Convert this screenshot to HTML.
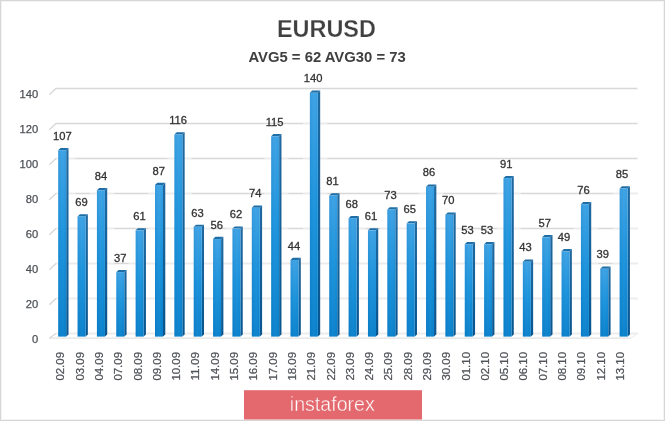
<!DOCTYPE html>
<html><head><meta charset="utf-8"><title>EURUSD</title>
<style>html,body{margin:0;padding:0;background:#fff}svg{display:block}</style></head>
<body>
<svg width="665" height="421" viewBox="0 0 665 421" font-family="Liberation Sans, sans-serif">
<defs>
<linearGradient id="fg" x1="0" x2="1" y1="0" y2="0">
<stop offset="0" stop-color="#003a80" stop-opacity="0.08"/><stop offset="0.6" stop-color="#fff" stop-opacity="0.03"/><stop offset="1" stop-color="#003a80" stop-opacity="0.03"/>
</linearGradient>
<linearGradient id="fv" x1="0" x2="0" y1="0" y2="1">
<stop offset="0" stop-color="#3aa1e4"/><stop offset="0.5" stop-color="#1791db"/><stop offset="1" stop-color="#0880cc"/>
</linearGradient>
<linearGradient id="sv" x1="0" x2="0" y1="0" y2="1"><stop offset="0" stop-color="#1f69a0"/><stop offset="1" stop-color="#08558f"/></linearGradient>
</defs>
<rect x="0" y="0" width="665" height="421" fill="#fff"/>
<rect x="0.5" y="0.5" width="664" height="420" fill="none" stroke="#d6d6d6" stroke-width="1"/>
<rect x="1.5" y="1.5" width="662" height="418" fill="none" stroke="#f4f4f4" stroke-width="1"/>
<path d="M49.3 338.2 L56.0 333.5 L637.5 333.5" fill="none" stroke="#d8d8d8" stroke-width="1.3"/>
<path d="M56.0 333.5H636.9" fill="none" stroke="#fff" stroke-opacity="0.5" stroke-width="1.6"/>
<path d="M49.3 304.7 L56.0 298.5 L637.5 298.5" fill="none" stroke="#d8d8d8" stroke-width="1.3"/>
<path d="M56.0 298.5H636.9" fill="none" stroke="#fff" stroke-opacity="0.5" stroke-width="1.6"/>
<path d="M49.3 269.7 L56.0 263.5 L637.5 263.5" fill="none" stroke="#d8d8d8" stroke-width="1.3"/>
<path d="M56.0 263.5H114.2M128.6 263.5H598.2M612.6 263.5H636.9" fill="none" stroke="#fff" stroke-opacity="0.5" stroke-width="1.6"/>
<path d="M49.3 234.7 L56.0 228.5 L637.5 228.5" fill="none" stroke="#d8d8d8" stroke-width="1.3"/>
<path d="M56.0 228.5H114.2M148.0 228.5H211.0M225.4 228.5H288.5M302.9 228.5H365.9M380.3 228.5H462.7M496.5 228.5H520.8M573.9 228.5H598.2M612.6 228.5H636.9" fill="none" stroke="#fff" stroke-opacity="0.5" stroke-width="1.6"/>
<path d="M49.3 199.7 L56.0 193.5 L637.5 193.5" fill="none" stroke="#d8d8d8" stroke-width="1.3"/>
<path d="M56.0 193.5H75.5M89.9 193.5H114.2M148.0 193.5H191.7M264.2 193.5H288.5M302.9 193.5H327.2M419.0 193.5H443.3M496.5 193.5H520.8M612.6 193.5H636.9" fill="none" stroke="#fff" stroke-opacity="0.5" stroke-width="1.6"/>
<path d="M49.3 164.7 L56.0 158.5 L637.5 158.5" fill="none" stroke="#d8d8d8" stroke-width="1.3"/>
<path d="M56.0 158.5H75.5M167.4 158.5H191.7M264.2 158.5H288.5M302.9 158.5H327.2" fill="none" stroke="#fff" stroke-opacity="0.5" stroke-width="1.6"/>
<path d="M49.3 129.7 L56.0 123.5 L637.5 123.5" fill="none" stroke="#d8d8d8" stroke-width="1.3"/>
<path d="M302.9 123.5H327.2" fill="none" stroke="#fff" stroke-opacity="0.5" stroke-width="1.6"/>
<path d="M49.3 94.7 L56.0 88.5 L637.5 88.5" fill="none" stroke="#d8d8d8" stroke-width="1.3"/>
<path d="M49.3 338.1 H630.9" fill="none" stroke="#dcdcdc" stroke-width="1"/>
<path d="M630.9 338.1 L637.5 333.5" fill="none" stroke="#ececec" stroke-width="1"/>
<text x="38.2" y="342.5" font-size="11.2" fill="#4d5156" stroke="#4d5156" stroke-width="0.25" text-anchor="end">0</text>
<text x="38.2" y="307.6" font-size="11.2" fill="#4d5156" stroke="#4d5156" stroke-width="0.25" text-anchor="end">20</text>
<text x="38.2" y="272.7" font-size="11.2" fill="#4d5156" stroke="#4d5156" stroke-width="0.25" text-anchor="end">40</text>
<text x="38.2" y="237.8" font-size="11.2" fill="#4d5156" stroke="#4d5156" stroke-width="0.25" text-anchor="end">60</text>
<text x="38.2" y="202.9" font-size="11.2" fill="#4d5156" stroke="#4d5156" stroke-width="0.25" text-anchor="end">80</text>
<text x="38.2" y="168.0" font-size="11.2" fill="#4d5156" stroke="#4d5156" stroke-width="0.25" text-anchor="end">100</text>
<text x="38.2" y="133.1" font-size="11.2" fill="#4d5156" stroke="#4d5156" stroke-width="0.25" text-anchor="end">120</text>
<text x="38.2" y="98.2" font-size="11.2" fill="#4d5156" stroke="#4d5156" stroke-width="0.25" text-anchor="end">140</text>
<path d="M66.20 150.21 L68.50 148.01 L68.50 334.40 L66.20 336.60Z" fill="url(#sv)"/>
<path d="M58.20 150.21 L60.50 148.01 L68.50 148.01 L66.20 150.21Z" fill="#1f6ea6"/>
<rect x="58.20" y="150.21" width="8.0" height="186.39" fill="url(#fv)"/>
<rect x="58.20" y="150.21" width="8.0" height="186.39" fill="url(#fg)"/>
<text x="62.30" y="139.91" font-size="11.2" fill="#333" stroke="#333" stroke-width="0.3" text-anchor="middle">107</text>
<path d="M85.56 216.40 L87.86 214.20 L87.86 334.40 L85.56 336.60Z" fill="url(#sv)"/>
<path d="M77.56 216.40 L79.86 214.20 L87.86 214.20 L85.56 216.40Z" fill="#1f6ea6"/>
<rect x="77.56" y="216.40" width="8.0" height="120.20" fill="url(#fv)"/>
<rect x="77.56" y="216.40" width="8.0" height="120.20" fill="url(#fg)"/>
<text x="81.60" y="206.10" font-size="11.2" fill="#333" stroke="#333" stroke-width="0.3" text-anchor="middle">69</text>
<path d="M104.92 190.27 L107.22 188.07 L107.22 334.40 L104.92 336.60Z" fill="url(#sv)"/>
<path d="M96.92 190.27 L99.22 188.07 L107.22 188.07 L104.92 190.27Z" fill="#1f6ea6"/>
<rect x="96.92" y="190.27" width="8.0" height="146.33" fill="url(#fv)"/>
<rect x="96.92" y="190.27" width="8.0" height="146.33" fill="url(#fg)"/>
<text x="100.90" y="179.97" font-size="11.2" fill="#333" stroke="#333" stroke-width="0.3" text-anchor="middle">84</text>
<path d="M124.28 272.15 L126.58 269.95 L126.58 334.40 L124.28 336.60Z" fill="url(#sv)"/>
<path d="M116.28 272.15 L118.58 269.95 L126.58 269.95 L124.28 272.15Z" fill="#1f6ea6"/>
<rect x="116.28" y="272.15" width="8.0" height="64.45" fill="url(#fv)"/>
<rect x="116.28" y="272.15" width="8.0" height="64.45" fill="url(#fg)"/>
<text x="120.20" y="261.85" font-size="11.2" fill="#333" stroke="#333" stroke-width="0.3" text-anchor="middle">37</text>
<path d="M143.64 230.34 L145.94 228.14 L145.94 334.40 L143.64 336.60Z" fill="url(#sv)"/>
<path d="M135.64 230.34 L137.94 228.14 L145.94 228.14 L143.64 230.34Z" fill="#1f6ea6"/>
<rect x="135.64" y="230.34" width="8.0" height="106.26" fill="url(#fv)"/>
<rect x="135.64" y="230.34" width="8.0" height="106.26" fill="url(#fg)"/>
<text x="139.50" y="220.04" font-size="11.2" fill="#333" stroke="#333" stroke-width="0.3" text-anchor="middle">61</text>
<path d="M163.00 185.05 L165.30 182.85 L165.30 334.40 L163.00 336.60Z" fill="url(#sv)"/>
<path d="M155.00 185.05 L157.30 182.85 L165.30 182.85 L163.00 185.05Z" fill="#1f6ea6"/>
<rect x="155.00" y="185.05" width="8.0" height="151.55" fill="url(#fv)"/>
<rect x="155.00" y="185.05" width="8.0" height="151.55" fill="url(#fg)"/>
<text x="158.80" y="174.75" font-size="11.2" fill="#333" stroke="#333" stroke-width="0.3" text-anchor="middle">87</text>
<path d="M182.36 134.53 L184.66 132.33 L184.66 334.40 L182.36 336.60Z" fill="url(#sv)"/>
<path d="M174.36 134.53 L176.66 132.33 L184.66 132.33 L182.36 134.53Z" fill="#1f6ea6"/>
<rect x="174.36" y="134.53" width="8.0" height="202.07" fill="url(#fv)"/>
<rect x="174.36" y="134.53" width="8.0" height="202.07" fill="url(#fg)"/>
<text x="178.10" y="124.23" font-size="11.2" fill="#333" stroke="#333" stroke-width="0.3" text-anchor="middle">116</text>
<path d="M201.72 226.85 L204.02 224.65 L204.02 334.40 L201.72 336.60Z" fill="url(#sv)"/>
<path d="M193.72 226.85 L196.02 224.65 L204.02 224.65 L201.72 226.85Z" fill="#1f6ea6"/>
<rect x="193.72" y="226.85" width="8.0" height="109.75" fill="url(#fv)"/>
<rect x="193.72" y="226.85" width="8.0" height="109.75" fill="url(#fg)"/>
<text x="197.40" y="216.55" font-size="11.2" fill="#333" stroke="#333" stroke-width="0.3" text-anchor="middle">63</text>
<path d="M221.08 239.05 L223.38 236.85 L223.38 334.40 L221.08 336.60Z" fill="url(#sv)"/>
<path d="M213.08 239.05 L215.38 236.85 L223.38 236.85 L221.08 239.05Z" fill="#1f6ea6"/>
<rect x="213.08" y="239.05" width="8.0" height="97.55" fill="url(#fv)"/>
<rect x="213.08" y="239.05" width="8.0" height="97.55" fill="url(#fg)"/>
<text x="216.70" y="228.75" font-size="11.2" fill="#333" stroke="#333" stroke-width="0.3" text-anchor="middle">56</text>
<path d="M240.44 228.60 L242.74 226.40 L242.74 334.40 L240.44 336.60Z" fill="url(#sv)"/>
<path d="M232.44 228.60 L234.74 226.40 L242.74 226.40 L240.44 228.60Z" fill="#1f6ea6"/>
<rect x="232.44" y="228.60" width="8.0" height="108.00" fill="url(#fv)"/>
<rect x="232.44" y="228.60" width="8.0" height="108.00" fill="url(#fg)"/>
<text x="236.00" y="218.30" font-size="11.2" fill="#333" stroke="#333" stroke-width="0.3" text-anchor="middle">62</text>
<path d="M259.80 207.69 L262.10 205.49 L262.10 334.40 L259.80 336.60Z" fill="url(#sv)"/>
<path d="M251.80 207.69 L254.10 205.49 L262.10 205.49 L259.80 207.69Z" fill="#1f6ea6"/>
<rect x="251.80" y="207.69" width="8.0" height="128.91" fill="url(#fv)"/>
<rect x="251.80" y="207.69" width="8.0" height="128.91" fill="url(#fg)"/>
<text x="255.30" y="197.39" font-size="11.2" fill="#333" stroke="#333" stroke-width="0.3" text-anchor="middle">74</text>
<path d="M279.16 136.27 L281.46 134.07 L281.46 334.40 L279.16 336.60Z" fill="url(#sv)"/>
<path d="M271.16 136.27 L273.46 134.07 L281.46 134.07 L279.16 136.27Z" fill="#1f6ea6"/>
<rect x="271.16" y="136.27" width="8.0" height="200.33" fill="url(#fv)"/>
<rect x="271.16" y="136.27" width="8.0" height="200.33" fill="url(#fg)"/>
<text x="274.60" y="125.97" font-size="11.2" fill="#333" stroke="#333" stroke-width="0.3" text-anchor="middle">115</text>
<path d="M298.52 259.95 L300.82 257.75 L300.82 334.40 L298.52 336.60Z" fill="url(#sv)"/>
<path d="M290.52 259.95 L292.82 257.75 L300.82 257.75 L298.52 259.95Z" fill="#1f6ea6"/>
<rect x="290.52" y="259.95" width="8.0" height="76.65" fill="url(#fv)"/>
<rect x="290.52" y="259.95" width="8.0" height="76.65" fill="url(#fg)"/>
<text x="293.90" y="249.65" font-size="11.2" fill="#333" stroke="#333" stroke-width="0.3" text-anchor="middle">44</text>
<path d="M317.88 92.72 L320.18 90.52 L320.18 334.40 L317.88 336.60Z" fill="url(#sv)"/>
<path d="M309.88 92.72 L312.18 90.52 L320.18 90.52 L317.88 92.72Z" fill="#1f6ea6"/>
<rect x="309.88" y="92.72" width="8.0" height="243.88" fill="url(#fv)"/>
<rect x="309.88" y="92.72" width="8.0" height="243.88" fill="url(#fg)"/>
<text x="313.20" y="82.42" font-size="11.2" fill="#333" stroke="#333" stroke-width="0.3" text-anchor="middle">140</text>
<path d="M337.24 195.50 L339.54 193.30 L339.54 334.40 L337.24 336.60Z" fill="url(#sv)"/>
<path d="M329.24 195.50 L331.54 193.30 L339.54 193.30 L337.24 195.50Z" fill="#1f6ea6"/>
<rect x="329.24" y="195.50" width="8.0" height="141.10" fill="url(#fv)"/>
<rect x="329.24" y="195.50" width="8.0" height="141.10" fill="url(#fg)"/>
<text x="332.50" y="185.20" font-size="11.2" fill="#333" stroke="#333" stroke-width="0.3" text-anchor="middle">81</text>
<path d="M356.60 218.14 L358.90 215.94 L358.90 334.40 L356.60 336.60Z" fill="url(#sv)"/>
<path d="M348.60 218.14 L350.90 215.94 L358.90 215.94 L356.60 218.14Z" fill="#1f6ea6"/>
<rect x="348.60" y="218.14" width="8.0" height="118.46" fill="url(#fv)"/>
<rect x="348.60" y="218.14" width="8.0" height="118.46" fill="url(#fg)"/>
<text x="351.80" y="207.84" font-size="11.2" fill="#333" stroke="#333" stroke-width="0.3" text-anchor="middle">68</text>
<path d="M375.96 230.34 L378.26 228.14 L378.26 334.40 L375.96 336.60Z" fill="url(#sv)"/>
<path d="M367.96 230.34 L370.26 228.14 L378.26 228.14 L375.96 230.34Z" fill="#1f6ea6"/>
<rect x="367.96" y="230.34" width="8.0" height="106.26" fill="url(#fv)"/>
<rect x="367.96" y="230.34" width="8.0" height="106.26" fill="url(#fg)"/>
<text x="371.10" y="220.04" font-size="11.2" fill="#333" stroke="#333" stroke-width="0.3" text-anchor="middle">61</text>
<path d="M395.32 209.43 L397.62 207.23 L397.62 334.40 L395.32 336.60Z" fill="url(#sv)"/>
<path d="M387.32 209.43 L389.62 207.23 L397.62 207.23 L395.32 209.43Z" fill="#1f6ea6"/>
<rect x="387.32" y="209.43" width="8.0" height="127.17" fill="url(#fv)"/>
<rect x="387.32" y="209.43" width="8.0" height="127.17" fill="url(#fg)"/>
<text x="390.40" y="199.13" font-size="11.2" fill="#333" stroke="#333" stroke-width="0.3" text-anchor="middle">73</text>
<path d="M414.68 223.37 L416.98 221.17 L416.98 334.40 L414.68 336.60Z" fill="url(#sv)"/>
<path d="M406.68 223.37 L408.98 221.17 L416.98 221.17 L414.68 223.37Z" fill="#1f6ea6"/>
<rect x="406.68" y="223.37" width="8.0" height="113.23" fill="url(#fv)"/>
<rect x="406.68" y="223.37" width="8.0" height="113.23" fill="url(#fg)"/>
<text x="409.70" y="213.07" font-size="11.2" fill="#333" stroke="#333" stroke-width="0.3" text-anchor="middle">65</text>
<path d="M434.04 186.79 L436.34 184.59 L436.34 334.40 L434.04 336.60Z" fill="url(#sv)"/>
<path d="M426.04 186.79 L428.34 184.59 L436.34 184.59 L434.04 186.79Z" fill="#1f6ea6"/>
<rect x="426.04" y="186.79" width="8.0" height="149.81" fill="url(#fv)"/>
<rect x="426.04" y="186.79" width="8.0" height="149.81" fill="url(#fg)"/>
<text x="429.00" y="176.49" font-size="11.2" fill="#333" stroke="#333" stroke-width="0.3" text-anchor="middle">86</text>
<path d="M453.40 214.66 L455.70 212.46 L455.70 334.40 L453.40 336.60Z" fill="url(#sv)"/>
<path d="M445.40 214.66 L447.70 212.46 L455.70 212.46 L453.40 214.66Z" fill="#1f6ea6"/>
<rect x="445.40" y="214.66" width="8.0" height="121.94" fill="url(#fv)"/>
<rect x="445.40" y="214.66" width="8.0" height="121.94" fill="url(#fg)"/>
<text x="448.30" y="204.36" font-size="11.2" fill="#333" stroke="#333" stroke-width="0.3" text-anchor="middle">70</text>
<path d="M472.76 244.27 L475.06 242.07 L475.06 334.40 L472.76 336.60Z" fill="url(#sv)"/>
<path d="M464.76 244.27 L467.06 242.07 L475.06 242.07 L472.76 244.27Z" fill="#1f6ea6"/>
<rect x="464.76" y="244.27" width="8.0" height="92.33" fill="url(#fv)"/>
<rect x="464.76" y="244.27" width="8.0" height="92.33" fill="url(#fg)"/>
<text x="467.60" y="233.97" font-size="11.2" fill="#333" stroke="#333" stroke-width="0.3" text-anchor="middle">53</text>
<path d="M492.12 244.27 L494.42 242.07 L494.42 334.40 L492.12 336.60Z" fill="url(#sv)"/>
<path d="M484.12 244.27 L486.42 242.07 L494.42 242.07 L492.12 244.27Z" fill="#1f6ea6"/>
<rect x="484.12" y="244.27" width="8.0" height="92.33" fill="url(#fv)"/>
<rect x="484.12" y="244.27" width="8.0" height="92.33" fill="url(#fg)"/>
<text x="486.90" y="233.97" font-size="11.2" fill="#333" stroke="#333" stroke-width="0.3" text-anchor="middle">53</text>
<path d="M511.48 178.08 L513.78 175.88 L513.78 334.40 L511.48 336.60Z" fill="url(#sv)"/>
<path d="M503.48 178.08 L505.78 175.88 L513.78 175.88 L511.48 178.08Z" fill="#1f6ea6"/>
<rect x="503.48" y="178.08" width="8.0" height="158.52" fill="url(#fv)"/>
<rect x="503.48" y="178.08" width="8.0" height="158.52" fill="url(#fg)"/>
<text x="506.20" y="167.78" font-size="11.2" fill="#333" stroke="#333" stroke-width="0.3" text-anchor="middle">91</text>
<path d="M530.84 261.69 L533.14 259.49 L533.14 334.40 L530.84 336.60Z" fill="url(#sv)"/>
<path d="M522.84 261.69 L525.14 259.49 L533.14 259.49 L530.84 261.69Z" fill="#1f6ea6"/>
<rect x="522.84" y="261.69" width="8.0" height="74.91" fill="url(#fv)"/>
<rect x="522.84" y="261.69" width="8.0" height="74.91" fill="url(#fg)"/>
<text x="525.50" y="251.39" font-size="11.2" fill="#333" stroke="#333" stroke-width="0.3" text-anchor="middle">43</text>
<path d="M550.20 237.31 L552.50 235.11 L552.50 334.40 L550.20 336.60Z" fill="url(#sv)"/>
<path d="M542.20 237.31 L544.50 235.11 L552.50 235.11 L550.20 237.31Z" fill="#1f6ea6"/>
<rect x="542.20" y="237.31" width="8.0" height="99.29" fill="url(#fv)"/>
<rect x="542.20" y="237.31" width="8.0" height="99.29" fill="url(#fg)"/>
<text x="544.80" y="227.01" font-size="11.2" fill="#333" stroke="#333" stroke-width="0.3" text-anchor="middle">57</text>
<path d="M569.56 251.24 L571.86 249.04 L571.86 334.40 L569.56 336.60Z" fill="url(#sv)"/>
<path d="M561.56 251.24 L563.86 249.04 L571.86 249.04 L569.56 251.24Z" fill="#1f6ea6"/>
<rect x="561.56" y="251.24" width="8.0" height="85.36" fill="url(#fv)"/>
<rect x="561.56" y="251.24" width="8.0" height="85.36" fill="url(#fg)"/>
<text x="564.10" y="240.94" font-size="11.2" fill="#333" stroke="#333" stroke-width="0.3" text-anchor="middle">49</text>
<path d="M588.92 204.21 L591.22 202.01 L591.22 334.40 L588.92 336.60Z" fill="url(#sv)"/>
<path d="M580.92 204.21 L583.22 202.01 L591.22 202.01 L588.92 204.21Z" fill="#1f6ea6"/>
<rect x="580.92" y="204.21" width="8.0" height="132.39" fill="url(#fv)"/>
<rect x="580.92" y="204.21" width="8.0" height="132.39" fill="url(#fg)"/>
<text x="583.40" y="193.91" font-size="11.2" fill="#333" stroke="#333" stroke-width="0.3" text-anchor="middle">76</text>
<path d="M608.28 268.66 L610.58 266.46 L610.58 334.40 L608.28 336.60Z" fill="url(#sv)"/>
<path d="M600.28 268.66 L602.58 266.46 L610.58 266.46 L608.28 268.66Z" fill="#1f6ea6"/>
<rect x="600.28" y="268.66" width="8.0" height="67.94" fill="url(#fv)"/>
<rect x="600.28" y="268.66" width="8.0" height="67.94" fill="url(#fg)"/>
<text x="602.70" y="258.36" font-size="11.2" fill="#333" stroke="#333" stroke-width="0.3" text-anchor="middle">39</text>
<path d="M627.64 188.53 L629.94 186.33 L629.94 334.40 L627.64 336.60Z" fill="url(#sv)"/>
<path d="M619.64 188.53 L621.94 186.33 L629.94 186.33 L627.64 188.53Z" fill="#1f6ea6"/>
<rect x="619.64" y="188.53" width="8.0" height="148.07" fill="url(#fv)"/>
<rect x="619.64" y="188.53" width="8.0" height="148.07" fill="url(#fg)"/>
<text x="622.00" y="178.23" font-size="11.2" fill="#333" stroke="#333" stroke-width="0.3" text-anchor="middle">85</text>
<text transform="translate(64.45 352.00) rotate(-90)" font-size="11" fill="#505358" stroke="#505358" stroke-width="0.25" text-anchor="end" textLength="28.6" lengthAdjust="spacingAndGlyphs">02.09</text>
<text transform="translate(83.74 352.00) rotate(-90)" font-size="11" fill="#505358" stroke="#505358" stroke-width="0.25" text-anchor="end" textLength="28.6" lengthAdjust="spacingAndGlyphs">03.09</text>
<text transform="translate(103.03 352.00) rotate(-90)" font-size="11" fill="#505358" stroke="#505358" stroke-width="0.25" text-anchor="end" textLength="28.6" lengthAdjust="spacingAndGlyphs">04.09</text>
<text transform="translate(122.32 352.00) rotate(-90)" font-size="11" fill="#505358" stroke="#505358" stroke-width="0.25" text-anchor="end" textLength="28.6" lengthAdjust="spacingAndGlyphs">07.09</text>
<text transform="translate(141.61 352.00) rotate(-90)" font-size="11" fill="#505358" stroke="#505358" stroke-width="0.25" text-anchor="end" textLength="28.6" lengthAdjust="spacingAndGlyphs">08.09</text>
<text transform="translate(160.90 352.00) rotate(-90)" font-size="11" fill="#505358" stroke="#505358" stroke-width="0.25" text-anchor="end" textLength="28.6" lengthAdjust="spacingAndGlyphs">09.09</text>
<text transform="translate(180.19 352.00) rotate(-90)" font-size="11" fill="#505358" stroke="#505358" stroke-width="0.25" text-anchor="end" textLength="28.6" lengthAdjust="spacingAndGlyphs">10.09</text>
<text transform="translate(199.48 352.00) rotate(-90)" font-size="11" fill="#505358" stroke="#505358" stroke-width="0.25" text-anchor="end" textLength="28.6" lengthAdjust="spacingAndGlyphs">11.09</text>
<text transform="translate(218.77 352.00) rotate(-90)" font-size="11" fill="#505358" stroke="#505358" stroke-width="0.25" text-anchor="end" textLength="28.6" lengthAdjust="spacingAndGlyphs">14.09</text>
<text transform="translate(238.06 352.00) rotate(-90)" font-size="11" fill="#505358" stroke="#505358" stroke-width="0.25" text-anchor="end" textLength="28.6" lengthAdjust="spacingAndGlyphs">15.09</text>
<text transform="translate(257.35 352.00) rotate(-90)" font-size="11" fill="#505358" stroke="#505358" stroke-width="0.25" text-anchor="end" textLength="28.6" lengthAdjust="spacingAndGlyphs">16.09</text>
<text transform="translate(276.64 352.00) rotate(-90)" font-size="11" fill="#505358" stroke="#505358" stroke-width="0.25" text-anchor="end" textLength="28.6" lengthAdjust="spacingAndGlyphs">17.09</text>
<text transform="translate(295.93 352.00) rotate(-90)" font-size="11" fill="#505358" stroke="#505358" stroke-width="0.25" text-anchor="end" textLength="28.6" lengthAdjust="spacingAndGlyphs">18.09</text>
<text transform="translate(315.22 352.00) rotate(-90)" font-size="11" fill="#505358" stroke="#505358" stroke-width="0.25" text-anchor="end" textLength="28.6" lengthAdjust="spacingAndGlyphs">21.09</text>
<text transform="translate(334.51 352.00) rotate(-90)" font-size="11" fill="#505358" stroke="#505358" stroke-width="0.25" text-anchor="end" textLength="28.6" lengthAdjust="spacingAndGlyphs">22.09</text>
<text transform="translate(353.80 352.00) rotate(-90)" font-size="11" fill="#505358" stroke="#505358" stroke-width="0.25" text-anchor="end" textLength="28.6" lengthAdjust="spacingAndGlyphs">23.09</text>
<text transform="translate(373.09 352.00) rotate(-90)" font-size="11" fill="#505358" stroke="#505358" stroke-width="0.25" text-anchor="end" textLength="28.6" lengthAdjust="spacingAndGlyphs">24.09</text>
<text transform="translate(392.38 352.00) rotate(-90)" font-size="11" fill="#505358" stroke="#505358" stroke-width="0.25" text-anchor="end" textLength="28.6" lengthAdjust="spacingAndGlyphs">25.09</text>
<text transform="translate(411.67 352.00) rotate(-90)" font-size="11" fill="#505358" stroke="#505358" stroke-width="0.25" text-anchor="end" textLength="28.6" lengthAdjust="spacingAndGlyphs">28.09</text>
<text transform="translate(430.96 352.00) rotate(-90)" font-size="11" fill="#505358" stroke="#505358" stroke-width="0.25" text-anchor="end" textLength="28.6" lengthAdjust="spacingAndGlyphs">29.09</text>
<text transform="translate(450.25 352.00) rotate(-90)" font-size="11" fill="#505358" stroke="#505358" stroke-width="0.25" text-anchor="end" textLength="28.6" lengthAdjust="spacingAndGlyphs">30.09</text>
<text transform="translate(469.54 352.00) rotate(-90)" font-size="11" fill="#505358" stroke="#505358" stroke-width="0.25" text-anchor="end" textLength="28.6" lengthAdjust="spacingAndGlyphs">01.10</text>
<text transform="translate(488.83 352.00) rotate(-90)" font-size="11" fill="#505358" stroke="#505358" stroke-width="0.25" text-anchor="end" textLength="28.6" lengthAdjust="spacingAndGlyphs">02.10</text>
<text transform="translate(508.12 352.00) rotate(-90)" font-size="11" fill="#505358" stroke="#505358" stroke-width="0.25" text-anchor="end" textLength="28.6" lengthAdjust="spacingAndGlyphs">05.10</text>
<text transform="translate(527.41 352.00) rotate(-90)" font-size="11" fill="#505358" stroke="#505358" stroke-width="0.25" text-anchor="end" textLength="28.6" lengthAdjust="spacingAndGlyphs">06.10</text>
<text transform="translate(546.70 352.00) rotate(-90)" font-size="11" fill="#505358" stroke="#505358" stroke-width="0.25" text-anchor="end" textLength="28.6" lengthAdjust="spacingAndGlyphs">07.10</text>
<text transform="translate(565.99 352.00) rotate(-90)" font-size="11" fill="#505358" stroke="#505358" stroke-width="0.25" text-anchor="end" textLength="28.6" lengthAdjust="spacingAndGlyphs">08.10</text>
<text transform="translate(585.28 352.00) rotate(-90)" font-size="11" fill="#505358" stroke="#505358" stroke-width="0.25" text-anchor="end" textLength="28.6" lengthAdjust="spacingAndGlyphs">09.10</text>
<text transform="translate(604.57 352.00) rotate(-90)" font-size="11" fill="#505358" stroke="#505358" stroke-width="0.25" text-anchor="end" textLength="28.6" lengthAdjust="spacingAndGlyphs">12.10</text>
<text transform="translate(623.86 352.00) rotate(-90)" font-size="11" fill="#505358" stroke="#505358" stroke-width="0.25" text-anchor="end" textLength="28.6" lengthAdjust="spacingAndGlyphs">13.10</text>
<text x="326.4" y="37.2" font-size="23.9" font-weight="bold" fill="#404040" stroke="#fff" stroke-width="0.25" text-anchor="middle" textLength="99" lengthAdjust="spacingAndGlyphs">EURUSD</text>
<text x="327.1" y="62" font-size="14.1" font-weight="bold" fill="#404040" text-anchor="middle" textLength="157.3" lengthAdjust="spacingAndGlyphs">AVG5 = 62 AVG30 = 73</text>
<rect x="244" y="390.2" width="178" height="29.3" fill="#e4696f"/>
<text x="332.3" y="411.3" font-size="20" fill="#fff" stroke="#e4696f" stroke-width="0.4" text-anchor="middle" textLength="85" lengthAdjust="spacingAndGlyphs">instaforex</text>
</svg>
</body></html>
